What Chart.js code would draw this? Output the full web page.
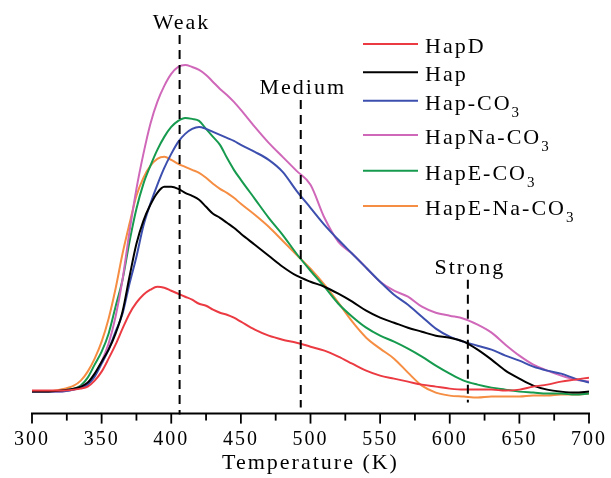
<!DOCTYPE html>
<html>
<head>
<meta charset="utf-8">
<script src="https://cdn.jsdelivr.net/npm/chart.js@4.4.1/dist/chart.umd.min.js"></script>
<style>
  html, body { margin: 0; padding: 0; background: #fff; }
  canvas { display: block; }
</style>
</head>
<body>
<canvas id="tpd" width="611" height="478"></canvas>
<script>
// Desorption temperature grid (K)
const temperatures = [300,310,320,330,335,340,345,350,355,360,365,370,375,380,385,390,395,400,405,410,415,420,425,430,435,440,445,450,460,470,480,490,500,510,520,530,540,550,560,570,580,590,600,610,620,630,640,650,660,670,680,690,700];

// Detector signal (a.u.) for each sample
const hapD = [1,1,1,2,3,5,11,20,33,47,63,78,89,97,102,105,104,101,98,95,92,88,86,82,79,77,74,70,62,56,52,49,45,41,35,28,21,16,13,10,7,5,3,2,2,2,1,2,5,7,10,12,14];
const hap = [0,0,1,3,5,9,18,30,42,58,80,115,148,171,187,199,205,205,203,199,196,192,185,178,174,169,164,158,147,136,125,116,110,105,98,90,81,74,69,64,60,56,54,50,42,32,21,13,6,2,0,-1,0];
const hapCO3 = [0,0,0,2,4,7,15,28,42,60,78,108,135,166,188,207,224,238,250,258,263,265,263,260,257,254,251,247,240,232,220,201,184,167,152,138,124,110,97,87,75,63,55,50,46,42,36,31,25,21,18,13,9];
const hapNaCO3 = [0,0,0,2,5,9,17,30,48,75,112,160,203,238,268,290,306,318,325,327,325,322,317,310,303,297,290,282,265,249,235,221,207,174,150,138,124,110,101,95,85,79,76,73,67,59,47,36,27,21,16,12,10];
const hapECO3 = [0,0,1,3,6,14,27,40,58,85,112,150,183,208,226,242,255,265,271,274,273,271,263,255,247,234,222,212,193,174,157,138,121,105,88,75,64,56,50,43,35,26,18,11,7,4,2,0,-1,-2,-2,-3,-2];
const hapENaCO3 = [0,0,2,6,11,20,33,50,73,103,138,168,196,214,226,233,235,232,228,225,222,219,214,208,203,199,194,188,177,165,151,137,123,107,89,70,54,43,33,19,6,-1,-4,-5,-6,-5,-5,-5,-4,-4,-3,-3,-2];

const seriesNames = ['HapD', 'Hap', 'Hap-CO₃', 'HapNa-CO₃', 'HapE-CO₃', 'HapE-Na-CO₃'];
const seriesValues = [hapD, hap, hapCO3, hapNaCO3, hapECO3, hapENaCO3];

// Basic site regions marked on the temperature axis
const siteTemps = [406, 493, 613];
const siteNames = ['Weak', 'Medium', 'Strong'];

const seriesColors = ['#eb3a42', '#000000', '#3d4fae', '#d068ba', '#169a4e', '#f58d42'];
const SERIF = "'Liberation Serif', 'Times New Roman', serif";

const datasets = seriesValues.map((vals, i) => ({
  label: seriesNames[i],
  data: temperatures.map((t, j) => ({ x: t, y: vals[j] })),
  borderColor: seriesColors[i],
  backgroundColor: seriesColors[i],
  borderWidth: 2,
  pointRadius: 0,
  fill: false,
  cubicInterpolationMode: 'monotone'
}));

// Wide-tracked serif lettering used throughout
const spacing = {
  id: 'spacing',
  beforeLayout(chart) { chart.ctx.letterSpacing = '2px'; },
  beforeDraw(chart) {
    const ctx = chart.ctx;
    ctx.letterSpacing = '2px';
    ctx.save();
    ctx.fillStyle = '#fff';
    ctx.fillRect(0, 0, chart.width, chart.height);
    ctx.restore();
  }
};

// Axis line with long ticks every 50 K and short ticks in between
const axisMarks = {
  id: 'axisMarks',
  afterDraw(chart) {
    const ctx = chart.ctx;
    const xs = chart.scales.x;
    const y0 = chart.chartArea.bottom;
    ctx.save();
    ctx.strokeStyle = '#000';
    ctx.lineWidth = 2;
    ctx.beginPath();
    ctx.moveTo(xs.getPixelForValue(300) - 1, y0);
    ctx.lineTo(xs.getPixelForValue(700) + 1, y0);
    ctx.stroke();
    ctx.lineWidth = 1.8;
    xs.ticks.forEach(t => {
      const px = xs.getPixelForValue(t.value);
      const len = t.value % 50 === 0 ? 10 : 7;
      ctx.beginPath();
      ctx.moveTo(px, y0);
      ctx.lineTo(px, y0 + len);
      ctx.stroke();
    });
    ctx.restore();
  }
};

// Dashed guides for the weak / medium / strong sites
const siteGuides = {
  id: 'siteGuides',
  afterDatasetsDraw(chart, args, opts) {
    const ctx = chart.ctx;
    const xs = chart.scales.x, ys = chart.scales.y;
    ctx.save();
    ctx.strokeStyle = '#000';
    ctx.fillStyle = '#000';
    ctx.lineWidth = 2;
    ctx.setLineDash([9, 6]);
    ctx.font = '22px ' + SERIF;
    ctx.textAlign = 'center';
    ctx.textBaseline = 'middle';
    ctx.letterSpacing = '2px';
    siteTemps.forEach((t, i) => {
      const px = xs.getPixelForValue(t);
      const top = ys.getPixelForValue(opts.tops[i]);
      const bottom = ys.getPixelForValue(opts.bottoms[i]);
      ctx.beginPath();
      ctx.moveTo(px, top);
      ctx.lineTo(px, bottom);
      ctx.stroke();
      ctx.fillText(siteNames[i], px + 2, top - 12);
    });
    ctx.restore();
  }
};

// Legend with subscripted carbonate labels
const sampleLegend = {
  id: 'sampleLegend',
  afterDraw(chart, args, opts) {
    const ctx = chart.ctx;
    ctx.save();
    ctx.textAlign = 'left';
    ctx.textBaseline = 'alphabetic';
    ctx.letterSpacing = '2px';
    chart.data.datasets.forEach((ds, i) => {
      const y = opts.rows[i];
      ctx.strokeStyle = ds.borderColor;
      ctx.lineWidth = 2;
      ctx.beginPath();
      ctx.moveTo(opts.lineX0, y);
      ctx.lineTo(opts.lineX1, y);
      ctx.stroke();
      const hasSub = ds.label.endsWith('₃');
      const main = hasSub ? ds.label.slice(0, -1) : ds.label;
      ctx.fillStyle = '#000';
      ctx.font = '22px ' + SERIF;
      ctx.fillText(main, opts.textX, y + 9);
      if (hasSub) {
        const w = ctx.measureText(main).width;
        ctx.font = '15px ' + SERIF;
        ctx.fillText('3', opts.textX + w, y + 16);
      }
    });
    ctx.restore();
  }
};

new Chart(document.getElementById('tpd'), {
  type: 'line',
  data: { datasets },
  plugins: [spacing, axisMarks, siteGuides, sampleLegend],
  options: {
    responsive: false,
    animation: false,
    devicePixelRatio: 1,
    layout: { padding: { left: 32, right: 19, top: 14, bottom: 0 } },
    plugins: {
      legend: { display: false },
      tooltip: { enabled: false },
      siteGuides: { tops: [357, 292, 112], bottoms: [-23, -16, -11] },
      sampleLegend: { rows: [44, 72.3, 100.7, 135, 170.7, 206], lineX0: 363, lineX1: 418, textX: 425 }
    },
    scales: {
      x: {
        type: 'linear',
        min: 300,
        max: 700,
        grid: { display: true, drawOnChartArea: false, color: 'rgba(0,0,0,0)', tickLength: 10 },
        border: { display: false },
        ticks: {
          stepSize: 25,
          autoSkip: false,
          maxRotation: 0,
          padding: 4,
          color: '#000',
          font: { family: SERIF, size: 20 },
          callback: v => (v % 50 === 0 ? String(v) : '')
        },
        title: {
          display: true,
          text: 'Temperature (K)',
          color: '#000',
          font: { family: SERIF, size: 22 },
          padding: { top: -6, bottom: 2 }
        }
      },
      y: { display: false, min: -22, max: 378 }
    }
  }
});
</script>
</body>
</html>
